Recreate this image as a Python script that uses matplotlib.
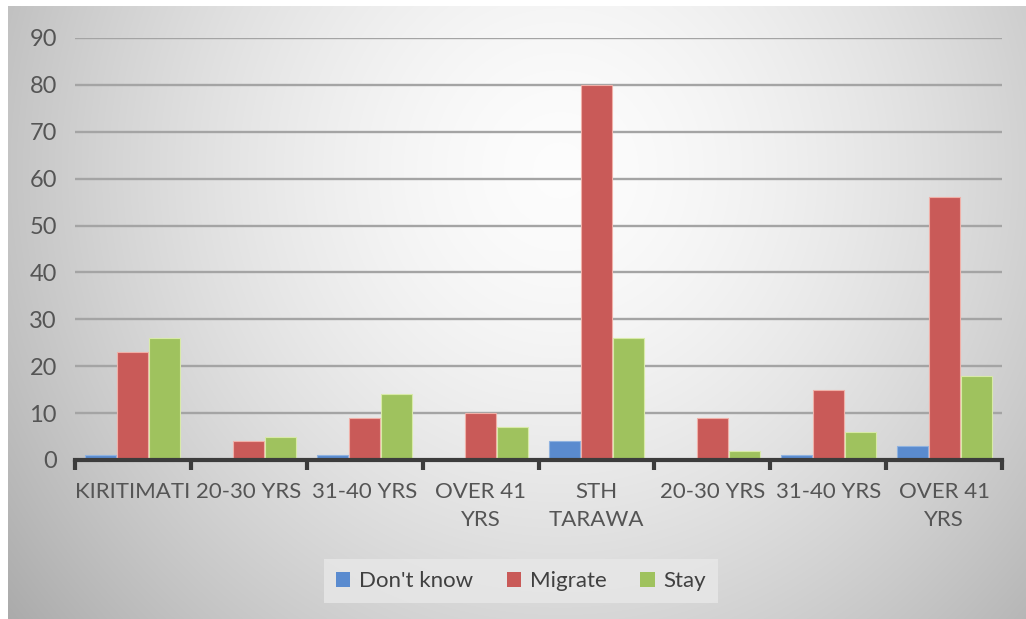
import matplotlib
matplotlib.use("Agg")
import matplotlib.pyplot as plt
import numpy as np
from matplotlib.patches import Patch

plt.rcParams["font.family"] = ["Lato", "DejaVu Sans"]

CATEGORIES = ["KIRITIMATI", "20-30 YRS", "31-40 YRS", "OVER 41\nYRS",
              "STH\nTARAWA", "20-30 YRS", "31-40 YRS", "OVER 41\nYRS"]
DONT_KNOW = [1, 0, 1, 0, 4, 0, 1, 3]
MIGRATE = [23, 4, 9, 10, 80, 9, 15, 56]
STAY = [26, 5, 14, 7, 26, 2, 6, 18]

SERIES = [
    ("Don't know", DONT_KNOW, "#5a8bcf", "#8fb2e0"),
    ("Migrate", MIGRATE, "#c95a58", "#f0b0a8"),
    ("Stay", STAY, "#9fc25e", "#d8eaa8"),
]

W, H = 1026, 619
fig = plt.figure(figsize=(W / 100, H / 100), dpi=100)

# radial grey-to-white backdrop of the chart area
bg = fig.add_axes([0, 0, 1, 1], zorder=-10)
bg.set_axis_off()
yy, xx = np.mgrid[0:H, 0:W]
cx, cy = 560, 170
r = np.sqrt(((xx - cx) / 600.0) ** 2 + ((yy - cy) / 620.0) ** 2)
shade = np.clip(0.99 - 0.25 * r ** 1.6, 0, 1)
img = np.dstack([shade] * 3)
outside = (xx < 8) | (yy < 6)
img[outside] = 1.0
bg.imshow(img, extent=[0, W, H, 0], aspect="auto", interpolation="bilinear")
bg.set_xlim(0, W)
bg.set_ylim(H, 0)

ax = fig.add_axes([75 / W, (H - 460) / H, 927 / W, 422 / H])
ax.patch.set_alpha(0)

x = np.arange(len(CATEGORIES))
bw = 0.268
offsets = [-0.276, 0.0, 0.276]
for (label, vals, color, edge), off in zip(SERIES, offsets):
    ax.bar(x + off, vals, width=bw, color=color, edgecolor=edge,
           linewidth=0.8, label=label, zorder=3)

ax.set_xlim(-0.5, len(CATEGORIES) - 0.5)
ax.set_ylim(0, 90)
ax.set_yticks(range(0, 91, 10))
ax.yaxis.grid(True, color="#a4a4a4", linewidth=1.7, zorder=0)
ax.set_axisbelow(True)

for side in ("top", "right", "left"):
    ax.spines[side].set_visible(False)
ax.spines["bottom"].set_color("#3c3c3c")
ax.spines["bottom"].set_linewidth(3)
ax.spines["bottom"].set_zorder(4)

ax.set_xticks(x)
ax.set_xticklabels(CATEGORIES, fontsize=16, color="#555555", linespacing=1.5)
ax.tick_params(axis="x", which="major", length=0, pad=16)
ax.set_xticks(np.arange(-0.5, len(CATEGORIES), 1), minor=True)
ax.tick_params(axis="x", which="minor", length=7, width=3, color="#3c3c3c",
               direction="out")
ax.tick_params(axis="y", length=0, labelsize=17, labelcolor="#555555", pad=13)

handles = [Patch(facecolor=c, label=l) for l, _, c, _ in SERIES]
leg = fig.legend(handles=handles, loc="center", bbox_to_anchor=(521 / W, (H - 581) / H),
                 ncol=3, fontsize=16, frameon=True, fancybox=False,
                 handlelength=0.65, handleheight=0.65, handletextpad=0.4,
                 columnspacing=1.5, borderpad=0.55)
leg.get_frame().set_facecolor("#e8e8e8")
leg.get_frame().set_edgecolor("none")
for t in leg.get_texts():
    t.set_color("#404040")

fig.savefig("out.png", dpi=100)
